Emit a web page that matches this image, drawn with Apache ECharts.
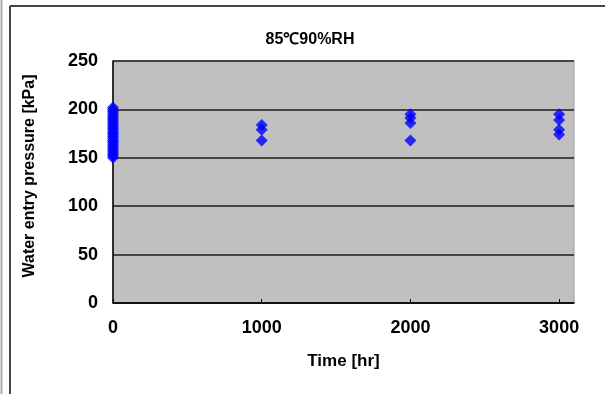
<!DOCTYPE html>
<html><head><meta charset="utf-8">
<script src="https://cdn.jsdelivr.net/npm/echarts@6/dist/echarts.min.js"></script>
<style>html,body{margin:0;padding:0;background:#fff}#c{width:605px;height:394px}</style>
</head><body><div id="c"></div>
<script>
const titleText = "85℃90%RH";
const xAxisName = "Time [hr]";
const yAxisName = "Water entry pressure [kPa]";
const times = [0, 1000, 2000, 3000];
const values0 = [150, 152, 154, 156, 158, 160, 162, 164, 166, 168, 170, 172, 174, 176, 178, 180, 182, 184, 186, 188, 190, 192, 194, 196, 198, 200, 202];
const values1000 = [184, 179, 168];
const values2000 = [195, 191, 186, 168];
const values3000 = [195, 189, 179, 174];
const groups = [values0, values1000, values2000, values3000];
const points = [];
groups.forEach((g, i) => g.forEach(v => points.push([times[i], v])));

const F = 'Liberation Sans, Arial';
const chart = echarts.init(document.getElementById('c'));
chart.setOption({
  backgroundColor: '#fff',
  animation: false,
  title: {text: titleText, left: 305, top: 27, textAlign: 'center',
    textStyle: {fontFamily: F, fontWeight: 'bold', fontSize: 16, color: '#000'}},
  grid: {left: 113, right: 31, top: 61, bottom: 91, show: true, backgroundColor: '#C0C0C0', borderColor: '#999', borderWidth: 1},
  xAxis: {type: 'value', min: 0, max: 3100, interval: 1000,
    name: xAxisName, nameLocation: 'middle', nameGap: 50,
    nameTextStyle: {fontFamily: F, fontWeight: 'bold', fontSize: 17, color: '#000'},
    axisLine: {lineStyle: {color: '#000', width: 1.5}},
    axisTick: {show: true, inside: true, length: 4, lineStyle: {color: '#000'}},
    splitLine: {show: false},
    axisLabel: {showMaxLabel: false, margin: 16, fontFamily: F, fontWeight: 'bold', fontSize: 18, color: '#000',
      formatter: v => (v % 1000 === 0 ? String(v) : '')}},
  yAxis: {type: 'value', min: 0, max: 250, interval: 50,
    name: yAxisName, nameLocation: 'middle', nameGap: 75, nameRotate: 90,
    nameTextStyle: {fontFamily: F, fontWeight: 'bold', fontSize: 16, color: '#000', padding: [0, 0, 0, 12]},
    axisLine: {show: true, lineStyle: {color: '#000', width: 1.5}},
    axisTick: {show: false},
    splitLine: {show: true, lineStyle: {color: '#444', width: 2}},
    axisLabel: {margin: 15, fontFamily: F, fontWeight: 'bold', fontSize: 18, color: '#000'}},
  graphic: [
    {type: 'line', shape: {x1: 1.5, y1: 0, x2: 1.5, y2: 394}, style: {stroke: '#aaa', lineWidth: 2}},
    {type: 'line', shape: {x1: 10, y1: 6, x2: 10, y2: 394}, style: {stroke: '#444', lineWidth: 2}},
    {type: 'line', shape: {x1: 10, y1: 6, x2: 605, y2: 6}, style: {stroke: '#444', lineWidth: 2}}
  ],
  series: [{type: 'scatter', data: points, symbol: 'diamond', symbolSize: [12, 12],
    itemStyle: {color: '#0000FF'}}]
});
</script></body></html>
